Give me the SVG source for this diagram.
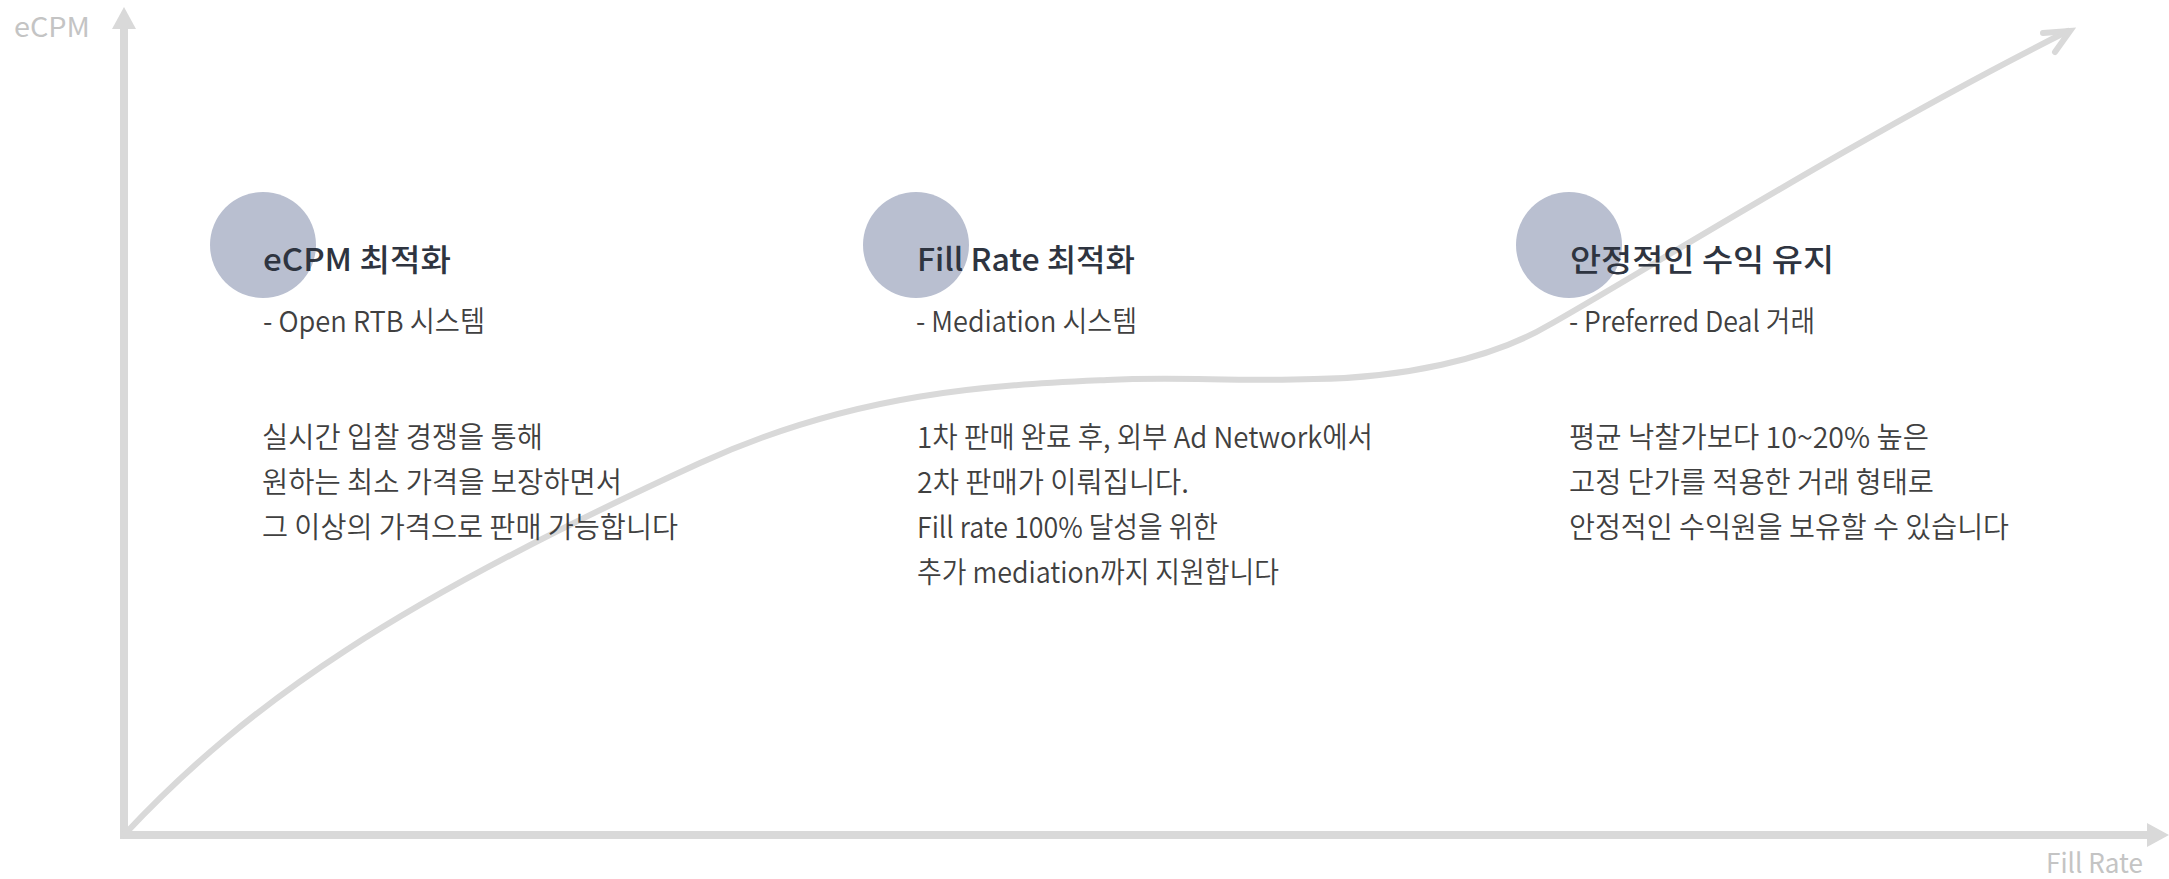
<svg xmlns="http://www.w3.org/2000/svg" width="2169" height="879" viewBox="0 0 2169 879">
  <style>
    .axis { stroke:#d9d9d9; stroke-width:8; fill:none; }
    .curve { stroke:#d9d9d9; stroke-width:6; fill:none; stroke-linecap:round; }
    .head { stroke:#d9d9d9; stroke-width:6; fill:none; stroke-linecap:round; stroke-linejoin:miter; }
    .dot { fill:#b9bfd0; }
    text { font-family:"Noto Sans CJK KR","Noto Sans",sans-serif; }
    .title { font-size:31px; font-weight:500; fill:#2e3440; }
    .sub { font-size:29px; font-weight:350; fill:#404040; }
    .body { font-size:29px; font-weight:350; fill:#404040; }
    .axlabel { font-size:27px; font-weight:400; fill:#c4c4c4; }
  </style>
  <defs>
    <marker id="axisHead" viewBox="0 0 22 24" markerUnits="userSpaceOnUse" markerWidth="22" markerHeight="24" refX="0" refY="12" orient="auto">
      <path d="M0,0 L22,12 L0,24 Z" fill="#d9d9d9"/>
    </marker>
  </defs>
  <rect width="2169" height="879" fill="#ffffff"/>

  <g id="axes">
    <line class="axis" x1="124" y1="839" x2="124" y2="29" marker-end="url(#axisHead)"/>
    <line class="axis" x1="120" y1="835" x2="2147" y2="835" marker-end="url(#axisHead)"/>
    <text class="axlabel" x="14" y="37" textLength="76" lengthAdjust="spacingAndGlyphs">eCPM</text>
    <text class="axlabel" x="2046" y="873" textLength="97" lengthAdjust="spacingAndGlyphs">Fill Rate</text>
  </g>

  <g id="dots">
    <circle class="dot" cx="263" cy="245" r="53"/>
    <circle class="dot" cx="916" cy="245" r="53"/>
    <circle class="dot" cx="1569" cy="245" r="53"/>
  </g>

  <g id="connectors">
    <path class="curve" d="M124,835 C250,700 400,600 700,463 C860,390 1000,385 1107,380 C1180,376 1230,382 1314,379 C1400,378 1490,360 1549,325 C1630,280 1860,135 2068,31"/>
    <polyline class="head" points="2043,33 2070,31 2055,52"/>
  </g>

  <g id="node-ecpm">
    <text class="title" x="263" y="271" textLength="188" lengthAdjust="spacingAndGlyphs">eCPM 최적화</text>
    <text class="sub" x="263" y="332" textLength="222" lengthAdjust="spacingAndGlyphs">- Open RTB 시스템</text>
    <text class="body" x="262" y="448" textLength="281" lengthAdjust="spacingAndGlyphs">실시간 입찰 경쟁을 통해</text>
    <text class="body" x="262" y="493" textLength="360" lengthAdjust="spacingAndGlyphs">원하는 최소 가격을 보장하면서</text>
    <text class="body" x="262" y="538" textLength="416" lengthAdjust="spacingAndGlyphs">그 이상의 가격으로 판매 가능합니다</text>
  </g>

  <g id="node-fillrate">
    <text class="title" x="917" y="271" textLength="218" lengthAdjust="spacingAndGlyphs">Fill Rate 최적화</text>
    <text class="sub" x="916" y="332" textLength="221" lengthAdjust="spacingAndGlyphs">- Mediation 시스템</text>
    <text class="body" x="917" y="448" textLength="456" lengthAdjust="spacingAndGlyphs">1차 판매 완료 후, 외부 Ad Network에서</text>
    <text class="body" x="917" y="493" textLength="272" lengthAdjust="spacingAndGlyphs">2차 판매가 이뤄집니다.</text>
    <text class="body" x="917" y="538" textLength="301" lengthAdjust="spacingAndGlyphs">Fill rate 100% 달성을 위한</text>
    <text class="body" x="917" y="583" textLength="362" lengthAdjust="spacingAndGlyphs">추가 mediation까지 지원합니다</text>
  </g>

  <g id="node-stable">
    <text class="title" x="1570" y="271" textLength="264" lengthAdjust="spacingAndGlyphs">안정적인 수익 유지</text>
    <text class="sub" x="1569" y="332" textLength="246" lengthAdjust="spacingAndGlyphs">- Preferred Deal 거래</text>
    <text class="body" x="1569" y="448" textLength="360" lengthAdjust="spacingAndGlyphs">평균 낙찰가보다 10~20% 높은</text>
    <text class="body" x="1569" y="493" textLength="365" lengthAdjust="spacingAndGlyphs">고정 단가를 적용한 거래 형태로</text>
    <text class="body" x="1569" y="538" textLength="440" lengthAdjust="spacingAndGlyphs">안정적인 수익원을 보유할 수 있습니다</text>
  </g>
</svg>
